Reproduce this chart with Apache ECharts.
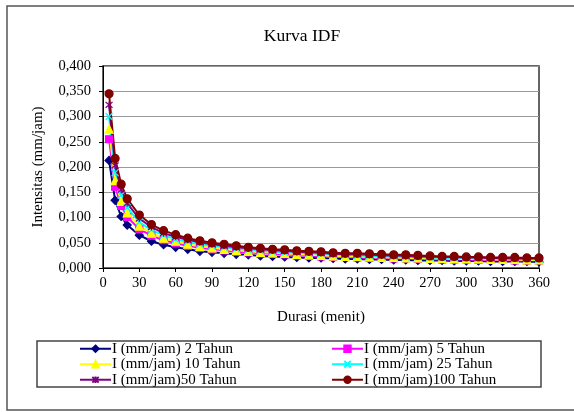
<!DOCTYPE html>
<html lang="id">
<head>
<meta charset="UTF-8">
<title>Kurva IDF</title>
<script src="https://cdn.jsdelivr.net/npm/echarts@6/dist/echarts.min.js"></script>
<style>
	html, body { margin: 0; padding: 0; background: #fff; }
	#chart { width: 574px; height: 412px; }
</style>
</head>
<body>
<div id="chart"></div>
<script>
// durasi (menit)
var durasi = [5, 10, 15, 20,
	30, 40, 50, 60, 70, 80, 90, 100,
	110, 120, 130, 140, 150, 160, 170, 180, 190, 200,
	210, 220, 230, 240, 250, 260, 270, 280, 290, 300,
	310, 320, 330, 340, 350, 360];

// intensitas (mm/jam)
var i2 = [0.213, 0.134, 0.102, 0.085,
	0.065, 0.053, 0.046, 0.041, 0.037, 0.033, 0.031, 0.029,
	0.027, 0.026, 0.024, 0.023, 0.022, 0.021, 0.020, 0.020, 0.019, 0.018,
	0.018, 0.017, 0.017, 0.016, 0.016, 0.015, 0.015, 0.015, 0.014, 0.014,
	0.014, 0.013, 0.013, 0.013, 0.013, 0.012];
var i5 = [0.255, 0.161, 0.123, 0.101,
	0.077, 0.064, 0.055, 0.049, 0.044, 0.040, 0.037, 0.035,
	0.032, 0.031, 0.029, 0.028, 0.027, 0.025, 0.024, 0.023, 0.022, 0.022,
	0.021, 0.020, 0.020, 0.019, 0.019, 0.018, 0.018, 0.017, 0.017, 0.017,
	0.016, 0.016, 0.016, 0.015, 0.015, 0.015];
var i10 = [0.275, 0.173, 0.132, 0.109,
	0.083, 0.069, 0.059, 0.053, 0.047, 0.043, 0.040, 0.037,
	0.035, 0.033, 0.031, 0.030, 0.029, 0.027, 0.026, 0.025, 0.024, 0.023,
	0.023, 0.022, 0.021, 0.021, 0.020, 0.020, 0.019, 0.019, 0.018, 0.018,
	0.018, 0.017, 0.017, 0.017, 0.016, 0.016];
var i25 = [0.300, 0.189, 0.144, 0.119,
	0.091, 0.075, 0.065, 0.057, 0.052, 0.047, 0.044, 0.041,
	0.038, 0.036, 0.034, 0.032, 0.031, 0.030, 0.029, 0.028, 0.026, 0.026,
	0.025, 0.024, 0.023, 0.023, 0.022, 0.022, 0.021, 0.020, 0.020, 0.020,
	0.019, 0.019, 0.018, 0.018, 0.018, 0.017];
var i50 = [0.323, 0.203, 0.155, 0.128,
	0.098, 0.081, 0.069, 0.062, 0.056, 0.051, 0.047, 0.044,
	0.041, 0.039, 0.037, 0.035, 0.034, 0.032, 0.031, 0.030, 0.028, 0.027,
	0.027, 0.026, 0.025, 0.025, 0.024, 0.023, 0.023, 0.022, 0.022, 0.021,
	0.021, 0.020, 0.020, 0.019, 0.019, 0.019];
var i100 = [0.345, 0.217, 0.166, 0.137,
	0.105, 0.086, 0.074, 0.066, 0.059, 0.054, 0.050, 0.047,
	0.044, 0.041, 0.039, 0.037, 0.036, 0.034, 0.033, 0.032, 0.030, 0.029,
	0.029, 0.028, 0.027, 0.026, 0.026, 0.025, 0.024, 0.023, 0.023, 0.022,
	0.022, 0.021, 0.021, 0.021, 0.020, 0.020];

var namaSeri = ['I (mm/jam) 2 Tahun', 'I (mm/jam) 5 Tahun', 'I (mm/jam) 10 Tahun',
	'I (mm/jam) 25 Tahun', 'I (mm/jam)50 Tahun', 'I (mm/jam)100 Tahun'];

var font = '"Liberation Serif", "DejaVu Serif", serif';

function pasang(xs, ys) {
	var out = [];
	for (var i = 0; i < xs.length; i++) {
		out.push([xs[i], ys[i]]);
	}
	return out;
}

function seri(nama, data, warna, simbol, ukuran) {
	return {
		name: nama,
		type: 'line',
		data: pasang(durasi, data),
		symbol: simbol,
		symbolSize: ukuran,
		showAllSymbol: true,
		lineStyle: { color: warna, width: 2 },
		itemStyle: { color: warna, borderColor: warna, borderWidth: 1.2 },
		emphasis: { disabled: true },
		animation: false
	};
}

var silang = 'path://M0,0L10,10M10,0L0,10';
var bintang = 'path://M0,0L10,10M10,0L0,10M5,-1L5,11';

function legenda(kiri, isi) {
	return {
		orient: 'vertical',
		left: kiri,
		top: 341,
		padding: 0,
		itemWidth: 31,
		itemHeight: 8,
		itemGap: 0,
		data: isi,
		textStyle: { fontFamily: font, fontSize: 15, lineHeight: 15.5, color: '#000', padding: [0, 0, 0, -4] }
	};
}

var chart = echarts.init(document.getElementById('chart'));
chart.setOption({
	backgroundColor: '#fff',
	animation: false,
	title: {
		text: 'Kurva IDF',
		left: 297,
		textAlign: 'center',
		top: 22,
		textStyle: { fontFamily: font, fontSize: 17.5, fontWeight: 'normal', color: '#000' }
	},
	legend: [
		legenda(79, [namaSeri[0], namaSeri[2], namaSeri[4]]),
		legenda(331, [namaSeri[1], namaSeri[3], namaSeri[5]])
	],
	graphic: [
		{
			type: 'rect',
			shape: { x: 7, y: 6, width: 600, height: 404 },
			style: { fill: 'none', stroke: '#555', lineWidth: 1.5 },
			silent: true
		},
		{
			type: 'rect',
			shape: { x: 37, y: 341, width: 504, height: 46 },
			style: { fill: 'none', stroke: '#444', lineWidth: 1.5 },
			silent: true
		}
	],
	grid: {
		left: 103,
		right: 35,
		top: 66,
		bottom: 144,
		show: true,
		borderColor: '#333',
		borderWidth: 1.5
	},
	xAxis: {
		type: 'value',
		min: 0,
		max: 360,
		interval: 30,
		name: 'Durasi (menit)',
		nameLocation: 'middle',
		nameGap: 42,
		nameTextStyle: { fontFamily: font, fontSize: 15, color: '#000' },
		axisLine: { lineStyle: { color: '#000', width: 1 } },
		axisTick: { show: true, inside: false, length: 4, lineStyle: { color: '#000' } },
		axisLabel: { fontFamily: font, fontSize: 14.5, color: '#000', margin: 8 },
		splitLine: { show: false }
	},
	yAxis: {
		type: 'value',
		min: 0,
		max: 0.4,
		interval: 0.05,
		name: 'Intensitas (mm/jam)',
		nameLocation: 'middle',
		nameGap: 57,
		nameTextStyle: { fontFamily: font, fontSize: 15, color: '#000' },
		axisLine: { show: true, lineStyle: { color: '#000', width: 1 } },
		axisTick: { show: true, inside: false, length: 4, lineStyle: { color: '#000' } },
		axisLabel: {
			fontFamily: font, fontSize: 14.5, color: '#000', margin: 12,
			formatter: function (v) { return v.toFixed(3).replace('.', ','); }
		},
		splitLine: { show: true, lineStyle: { color: '#999', width: 1 } }
	},
	series: [
		seri(namaSeri[0], i2, '#000080', 'diamond', 8),
		seri(namaSeri[1], i5, '#ff00ff', 'rect', 7),
		seri(namaSeri[2], i10, '#ffff00', 'triangle', 8),
		seri(namaSeri[3], i25, '#00ffff', silang, 7),
		seri(namaSeri[4], i50, '#800080', bintang, 7),
		seri(namaSeri[5], i100, '#800000', 'circle', 8)
	]
});
</script>
</body>
</html>
